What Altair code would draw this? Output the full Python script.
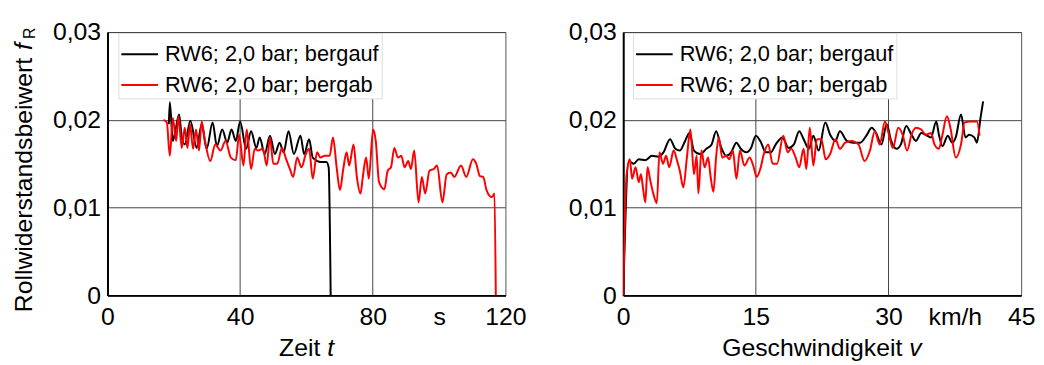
import altair as alt
import pandas as pd

FONT = "Liberation Sans"
SERIES = ["RW6; 2,0 bar; bergauf", "RW6; 2,0 bar; bergab"]
COLORS = ["#000000", "#ff0000"]

# ---- left panel: Zeit t (s) ----
T_UP = [18.5, 18.8, 19.7, 20.6, 21.6, 22.4, 23.3, 25.0, 26.9, 28.4, 29.9, 31.7, 33.0, 34.6, 36.1,
        37.4, 38.7, 40.0, 41.8, 43.3, 44.9, 45.9, 47.4, 49.0, 50.5, 51.9, 53.1, 54.6,
        56.2, 58.2, 59.3, 60.8, 61.9, 64.4, 66.0, 66.7, 67.3]
F_UP_T = [0.0195, 0.0220, 0.0176, 0.0190, 0.0206, 0.0180, 0.0172, 0.0199, 0.0168, 0.0195, 0.0167, 0.0197,
          0.0170, 0.0189, 0.0174, 0.0189, 0.0176, 0.0198, 0.0167, 0.0187, 0.0168, 0.0180,
          0.0161, 0.0182, 0.0161, 0.0174, 0.0163, 0.0187, 0.0161, 0.0182, 0.0161, 0.0178,
          0.0157, 0.0152, 0.0152, 0.0146, 0.0]

T_DN = [16.9, 17.9, 18.8, 19.7, 20.7, 21.4, 22.4, 23.3, 24.1, 24.9, 25.8, 26.7, 27.6, 28.4,
        29.4, 31.0, 32.5, 34.1, 35.6, 37.2, 38.7, 39.7, 41.0, 42.0, 43.3, 44.4, 45.4, 46.9,
        48.0, 49.0, 50.0, 51.2, 52.6, 53.9, 55.0, 56.0, 57.2, 58.5, 59.8, 60.8, 61.9, 63.2,
        64.2, 65.5, 67.0, 68.0, 69.1, 70.1, 71.1, 72.1, 72.9, 74.2, 75.2, 76.3, 77.0, 78.0,
        78.8, 80.1, 80.9, 81.9, 83.5, 84.5, 85.5, 86.5, 87.6, 88.6, 89.6, 90.7, 91.5, 92.5,
        93.8, 94.8, 95.8, 97.1, 98.4, 99.4, 101.0, 102.3, 103.5, 104.6, 106.6, 108.2, 110.2,
        111.2, 112.3, 113.3, 114.3, 115.9, 116.7, 117.1]
F_DN_T = [0.0200, 0.0197, 0.0159, 0.0202, 0.0176, 0.0204, 0.0168, 0.0191, 0.0168, 0.0195,
          0.0167, 0.0189, 0.0165, 0.0198, 0.0176, 0.0153, 0.0172, 0.0165, 0.0176, 0.0157,
          0.0154, 0.0183, 0.0148, 0.0189, 0.0144, 0.0167, 0.0165, 0.0167, 0.0148, 0.0180,
          0.0150, 0.0150, 0.0168, 0.0155, 0.0144, 0.0135, 0.0157, 0.0146, 0.0161, 0.0167,
          0.0133, 0.0163, 0.0157, 0.0159, 0.0159, 0.0180, 0.0146, 0.0120, 0.0144, 0.0163,
          0.0148, 0.0172, 0.0135, 0.0116, 0.0135, 0.0157, 0.0133, 0.0189, 0.0176, 0.0129,
          0.0121, 0.0142, 0.0146, 0.0168, 0.0157, 0.0159, 0.0146, 0.0153, 0.0144, 0.0165,
          0.0106, 0.0135, 0.0116, 0.0142, 0.0144, 0.0148, 0.0106, 0.0138, 0.0140, 0.0135,
          0.0148, 0.0135, 0.0155, 0.0150, 0.0136, 0.0135, 0.0120, 0.0112, 0.0116, 0.0]

# ---- right panel: Geschwindigkeit v (km/h) ----
V_UP = [0.0, 0.63, 1.2, 1.75, 2.5, 3.25, 4.0, 4.55, 5.3, 5.9, 6.4, 7.0, 7.5, 8.0, 8.7, 9.4, 10.0,
        10.5, 11.1, 11.65, 12.2, 12.8, 13.3, 13.9, 14.45, 15.0, 15.6, 16.1, 16.7, 17.25, 18.0,
        18.7, 19.3, 19.9, 20.4, 21.0, 21.5, 22.1, 22.85, 23.4, 24.0, 24.5, 25.3, 26.0, 26.8,
        27.5, 28.1, 28.6, 29.2, 29.8, 30.3, 30.9, 31.4, 32.0, 32.6, 33.1, 33.7, 34.2, 34.8,
        35.4, 35.7, 36.1, 36.7, 37.2, 37.6, 38.2, 38.7, 39.1, 39.7, 40.0, 40.4, 40.7]
F_UP_V = [0.0, 0.0153, 0.0150, 0.0155, 0.0154, 0.0159, 0.0158, 0.0163, 0.0178, 0.0167, 0.0165,
          0.0176, 0.0185, 0.0165, 0.0161, 0.0167, 0.0172, 0.0187, 0.0168, 0.0159, 0.0163,
          0.0174, 0.0167, 0.0163, 0.0168, 0.0182, 0.0174, 0.0163, 0.0163, 0.0172, 0.0180,
          0.0168, 0.0172, 0.0187, 0.0178, 0.0167, 0.0182, 0.0165, 0.0197, 0.0183, 0.0176,
          0.0187, 0.0176, 0.0174, 0.0174, 0.0182, 0.0191, 0.0185, 0.0172, 0.0195, 0.0176,
          0.0167, 0.0172, 0.0193, 0.0183, 0.0176, 0.0185, 0.0183, 0.0180, 0.0198, 0.0183,
          0.0170, 0.0182, 0.0174, 0.0180, 0.0206, 0.0180, 0.0183, 0.0180, 0.0174, 0.0202, 0.0221]

V_DN = [0.0, 0.37, 0.75, 1.0, 1.4, 1.75, 2.0, 2.25, 2.5, 2.75, 3.06, 3.4, 3.8, 4.1, 4.5, 4.85,
        5.2, 5.7, 6.1, 6.4, 6.8, 7.2, 7.6, 8.0, 8.3, 8.5, 8.85, 9.2, 9.6, 9.85, 10.2, 10.5,
        10.8, 11.2, 11.65, 12.0, 12.4, 12.8, 13.2, 13.7, 14.3, 14.7, 15.1, 15.5, 15.9, 16.4,
        16.9, 17.4, 18.1, 18.6, 19.0, 19.5, 19.9, 20.4, 20.7, 21.1, 21.5, 21.9, 22.4, 22.9,
        23.4, 24.0, 24.5, 25.1, 25.8, 26.6, 27.3, 27.9, 28.45, 29.0, 29.6, 30.0, 30.5, 31.1,
        31.6, 32.1, 32.6, 33.1, 33.7, 34.2, 34.8, 35.2, 35.7, 36.1, 36.6, 37.0, 37.6, 38.2,
        38.6, 39.3, 40.0, 40.3]
F_DN_V = [0.0, 0.0136, 0.0155, 0.0133, 0.0146, 0.0129, 0.0138, 0.0121, 0.0106, 0.0146, 0.0131,
          0.0116, 0.0105, 0.0163, 0.0150, 0.0159, 0.0146, 0.0165, 0.0153, 0.0142, 0.0123,
          0.0157, 0.0189, 0.0138, 0.0159, 0.0116, 0.0165, 0.0146, 0.0157, 0.0138, 0.0118,
          0.0157, 0.0180, 0.0157, 0.0159, 0.0155, 0.0165, 0.0133, 0.0165, 0.0148, 0.0157,
          0.0148, 0.0135, 0.0144, 0.0161, 0.0172, 0.0150, 0.0150, 0.0182, 0.0163, 0.0167,
          0.0157, 0.0146, 0.0167, 0.0144, 0.0191, 0.0148, 0.0178, 0.0178, 0.0155, 0.0161,
          0.0178, 0.0167, 0.0174, 0.0176, 0.0172, 0.0153, 0.0165, 0.0187, 0.0172, 0.0198,
          0.0185, 0.0168, 0.0191, 0.0183, 0.0165, 0.0183, 0.0191, 0.0189, 0.0183, 0.0185,
          0.0172, 0.0167, 0.0183, 0.0204, 0.0191, 0.0157, 0.0172, 0.0197, 0.0198, 0.0198, 0.0182]

Y_TICKS = [0, 0.01, 0.02, 0.03]
X_TICKS_L = [0, 40, 80, 100, 120]
X_GRID_L = [40, 80]
X_TICKS_R = [0, 15, 30, 37.5, 45]
X_GRID_R = [15, 30]

W, H = 402, 266
FS = 25


def long_df(xs_up, fs_up, xs_dn, fs_dn):
    rows = []
    for i, (x, f) in enumerate(zip(xs_up, fs_up)):
        rows.append({"x": x, "f": f, "series": SERIES[0], "i": i})
    for i, (x, f) in enumerate(zip(xs_dn, fs_dn)):
        rows.append({"x": x, "f": f, "series": SERIES[1], "i": i})
    return pd.DataFrame(rows)


def one():
    return pd.DataFrame({"k": [0]})


def panel(df, xmax, xticks, unit_val, unit_label, grid_vals, t_main, t_it, t_anchor,
          leg_x, with_ytitle):
    xscale = alt.Scale(domain=[0, xmax], nice=False)
    yscale = alt.Scale(domain=[0, 0.03], nice=False)
    xaxis = alt.Axis(values=xticks, grid=False, title=None,
                     labelExpr=f"datum.value == {unit_val} ? '{unit_label}' : datum.label")
    grid = alt.Chart(pd.DataFrame({"x": grid_vals})).mark_rule(
        color="#444", strokeWidth=1
    ).encode(x=alt.X("x:Q", scale=xscale, axis=xaxis))
    line = alt.Chart(df).mark_line(strokeWidth=2, clip=True, interpolate="monotone").encode(
        x=alt.X("x:Q", scale=xscale, axis=xaxis),
        y=alt.Y("f:Q", scale=yscale,
                axis=alt.Axis(values=Y_TICKS, grid=True, title=None,
                              labelExpr="datum.value == 0 ? '0' : replace(format(datum.value, '.2f'), '.', ',')")),
        color=alt.Color("series:N", scale=alt.Scale(domain=SERIES, range=COLORS),
                        legend=alt.Legend(orient="none", legendX=leg_x, legendY=1, title=None,
                                          symbolType="stroke", symbolSize=1369, symbolStrokeWidth=2,
                                          labelFont=FONT, labelFontSize=22, labelColor="black",
                                          labelLimit=0, rowPadding=-10, padding=2, labelOffset=6,
                                          strokeColor="#dddddd", fillColor="white")),
        order="i:Q",
    )
    layers = [grid, line]
    layers.append(alt.Chart(one()).mark_text(
        text=t_main, font=FONT, fontSize=FS, align="right", baseline="alphabetic", color="black"
    ).encode(x=alt.value(t_anchor), y=alt.value(H + 61)))
    layers.append(alt.Chart(one()).mark_text(
        text=t_it, font=FONT, fontSize=FS, fontStyle="italic", align="left", baseline="alphabetic",
        color="black", dx=7
    ).encode(x=alt.value(t_anchor), y=alt.value(H + 61)))
    if with_ytitle:
        ax, ay = -76, 26
        layers.append(alt.Chart(one()).mark_text(
            text="Rollwiderstandsbeiwert", font=FONT, fontSize=FS, align="right",
            baseline="alphabetic", angle=270, color="black"
        ).encode(x=alt.value(ax), y=alt.value(ay)))
        layers.append(alt.Chart(one()).mark_text(
            text="f", font=FONT, fontSize=FS, fontStyle="italic", align="left",
            baseline="alphabetic", angle=270, color="black", dx=8
        ).encode(x=alt.value(ax), y=alt.value(ay)))
        layers.append(alt.Chart(one()).mark_text(
            text="R", font=FONT, fontSize=16, align="left",
            baseline="alphabetic", angle=270, color="black", dx=19, dy=3
        ).encode(x=alt.value(ax), y=alt.value(ay)))
    return alt.layer(*layers).properties(width=W, height=H)


left = panel(long_df(T_UP, F_UP_T, T_DN, F_DN_T), 120, X_TICKS_L, 100, "s", X_GRID_L,
             "Zeit", "t", 215, 11, True)
right = panel(long_df(V_UP, F_UP_V, V_DN, F_DN_V), 45, X_TICKS_R, 37.5, "km/h", X_GRID_R,
              "Geschwindigkeit", "v", 282, 10, False)

chart = alt.hconcat(left, right, spacing=40).resolve_legend(color="independent").resolve_scale(
    color="independent"
).properties(
    padding={"left": 3.5, "top": 9.5, "right": 0, "bottom": 0}
).configure_view(stroke="#555", strokeWidth=1).configure_axis(
    labelFont=FONT, labelFontSize=FS, labelColor="black", domainColor="black", domainWidth=2,
    ticks=False, gridColor="#444", gridWidth=1, labelFlush=False
).configure_axisX(labelPadding=9).configure_axisY(labelPadding=7)

chart.save("out.html", embed_options={"renderer": "svg", "actions": False})
